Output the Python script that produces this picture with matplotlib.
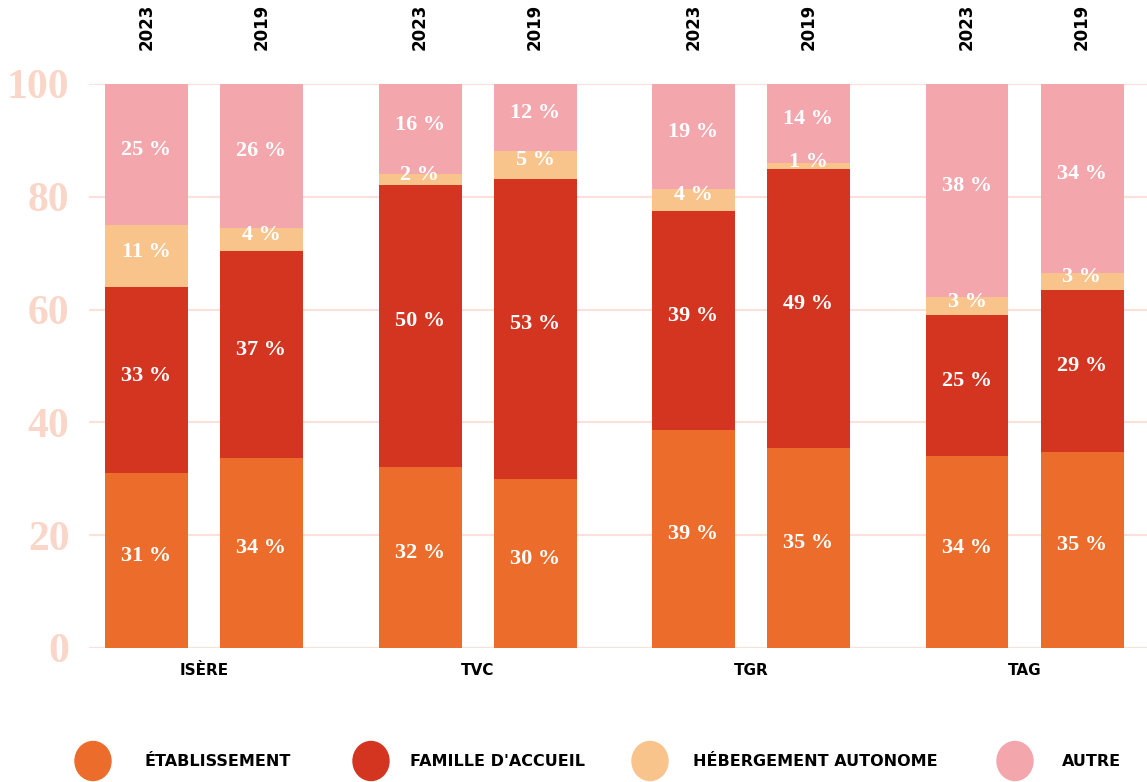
import numpy as np
import matplotlib.pyplot as plt
from matplotlib.patches import Ellipse

# data (share of young people by type of placement, %)
groups = ["ISÈRE", "TVC", "TGR", "TAG"]
years = ["2023", "2019"]
series = ["ÉTABLISSEMENT", "FAMILLE D'ACCUEIL", "HÉBERGEMENT AUTONOME", "AUTRE"]

# one entry per bar, order: ISÈRE 2023, ISÈRE 2019, TVC 2023, TVC 2019, ...
etablissement = [31.0, 33.7, 32.1, 30.0, 38.7, 35.5, 34.0, 34.8]
famille = [33.0, 36.7, 50.0, 53.2, 38.8, 49.4, 25.0, 28.7]
autonome = [11.0, 4.1, 1.9, 4.9, 3.9, 1.1, 3.2, 3.0]
autre = [25.0, 25.5, 16.0, 11.9, 18.6, 14.0, 37.8, 33.5]

# rounded labels printed on the bars
lab_etab = [31, 34, 32, 30, 39, 35, 34, 35]
lab_fam = [33, 37, 50, 53, 39, 49, 25, 29]
lab_auto = [11, 4, 2, 5, 4, 1, 3, 3]
lab_autre = [25, 26, 16, 12, 19, 14, 38, 34]

colors = ["#ec6d2b", "#d33521", "#f9c38c", "#f4a6ad"]
peach = "#f9d6c8"
grid_c = "#fbe1d9"

W, H = 1147, 782
fig = plt.figure(figsize=(W / 100, H / 100), dpi=100)
ax = fig.add_axes([89 / W, (H - 648) / H, (W - 89) / W, 564 / H])

# bar centres (units of 100 px)
group_step = 2.735
within = 1.15
width = 0.83
x = []
for g in range(len(groups)):
    for k in range(len(years)):
        x.append(g * group_step + k * within)
x = np.array(x)

ax.set_xlim(-0.575, -0.575 + (W - 89) / 100)
ax.set_ylim(0, 100)

for yv in range(0, 101, 20):
    ax.axhline(yv, color=grid_c, lw=1.5, zorder=0)

vals = [etablissement, famille, autonome, autre]
labs = [lab_etab, lab_fam, lab_auto, lab_autre]
bottom = np.zeros(len(x))
for v, lab, c in zip(vals, labs, colors):
    v = np.array(v)
    ax.bar(x, v, width, bottom=bottom, color=c, zorder=2)
    for xi, b, vi, li in zip(x, bottom, v, lab):
        ax.text(xi, b + vi / 2 + 0.8, f"{li} %", ha="center", va="center",
                color="white", fontsize=16, fontweight="bold",
                family="Liberation Serif", zorder=3)
    bottom += v

for s in ax.spines.values():
    s.set_visible(False)
ax.tick_params(length=0)
ax.set_xticks([])
ax.set_yticks(range(0, 101, 20))
ax.set_yticklabels([str(t) for t in range(0, 101, 20)], color=peach,
                   fontsize=30, fontweight="bold", family="Liberation Serif")
ax.tick_params(axis="y", pad=14)

# year labels above bars
for i, xi in enumerate(x):
    ax.text(xi, 1.06, years[i % 2], transform=ax.get_xaxis_transform(),
            rotation=90, ha="center", va="bottom", fontsize=12,
            fontweight="bold", color="black", clip_on=False)

# group labels below
for g, name in enumerate(groups):
    xc = g * group_step + within / 2
    ax.text(xc, -0.04, name, transform=ax.get_xaxis_transform(),
            ha="center", va="center", fontsize=11, fontweight="bold")

# legend row
circ_x = [93, 371, 650, 1015]
text_x = [145, 410, 693, 1062]
ly = (H - 761) / H
for cx, tx, c, name in zip(circ_x, text_x, colors, series):
    fig.patches.append(Ellipse((cx / W, ly), 36 / W, 39 / H,
                               transform=fig.transFigure, color=c))
    fig.text(tx / W, ly, name, ha="left", va="center",
             fontsize=11.5, fontweight="bold")

fig.savefig("out.png", dpi=100)
